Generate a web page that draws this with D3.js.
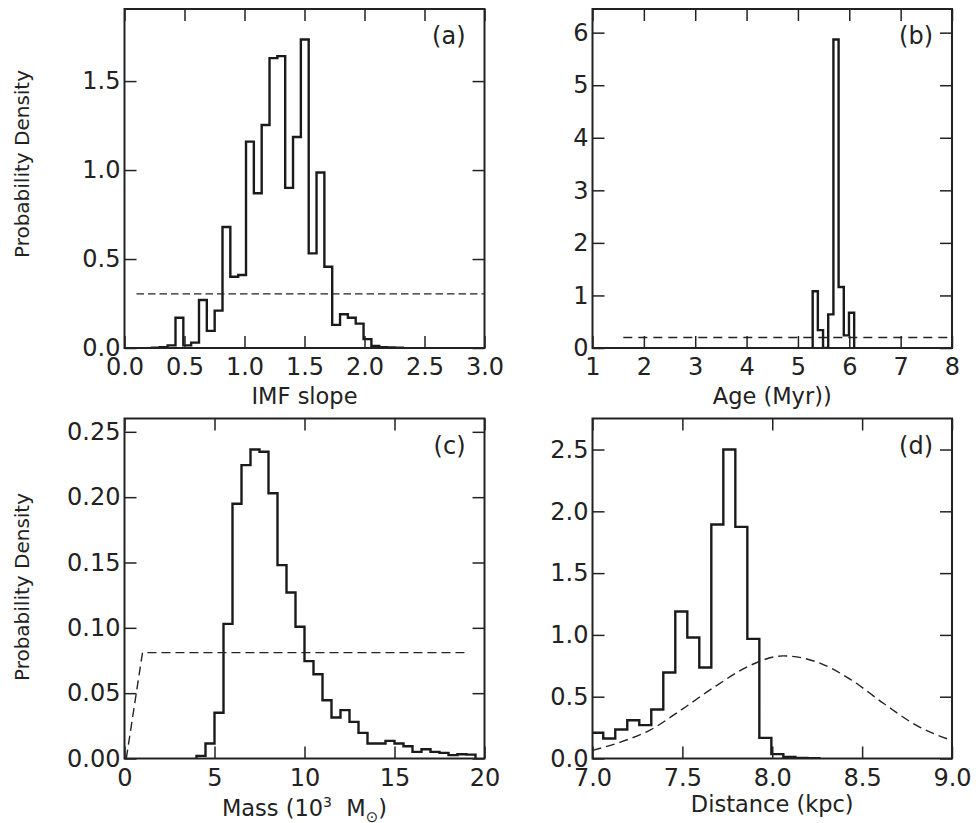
<!DOCTYPE html>
<html>
<head>
<meta charset="utf-8">
<script src="https://cdn.jsdelivr.net/npm/d3@7/dist/d3.min.js"></script>
<style>
body { margin: 0; background: #fff; }
svg text { font-family: "DejaVu Sans", sans-serif; fill: #222; }
</style>
</head>
<body>
<div id="chart"></div>
<script>
var w = 976;
var h = 823;

// (a) IMF slope: histogram heights, bins start at imfStart with width imfWidth
var imfStart = 0.229, imfWidth = 0.0653;
var imfDensity = [0.002, 0.005, 0.015, 0.17, 0.015, 0.03, 0.27, 0.096, 0.21, 0.68,
    0.40, 0.41, 1.16, 0.87, 1.253, 1.629, 1.64, 0.90, 1.186, 1.734,
    0.532, 0.986, 0.457, 0.13, 0.19, 0.17, 0.137, 0.05, 0.011, 0.005, 0.003, 0.002];
var imfPriorX = [0.1, 3.0];
var imfPriorY = [0.304, 0.304];

// (b) Age
var ageStart = 5.287, ageWidth = 0.101;
var ageDensity = [1.08, 0.34, 0.0, 0.64, 5.87, 1.16, 0.24, 0.67];
var agePriorX = [1.6, 8.0];
var agePriorY = [0.2, 0.2];

// (c) Mass
var massStart = 4.0, massWidth = 0.5;
var massDensity = [0.002, 0.0115, 0.035, 0.103, 0.195, 0.2245, 0.2365, 0.2347, 0.203, 0.148,
    0.127, 0.1008, 0.0745, 0.0645, 0.0446, 0.0314, 0.037, 0.028, 0.0196, 0.0115,
    0.0115, 0.0135, 0.0115, 0.0094, 0.0051, 0.0071, 0.0051, 0.0043, 0.0026, 0.0033, 0.003];
var massPriorX = [0.1, 1.0, 19.0];
var massPriorY = [0, 0.081, 0.081];

// (d) Distance
var distStart = 6.993, distWidth = 0.0668;
var distDensity = [0.208, 0.162, 0.235, 0.31, 0.27, 0.396, 0.696, 1.189, 0.979, 0.736,
    1.893, 2.5, 1.874, 0.968, 0.167, 0.035, 0.013, 0.004, 0.002];
var distPriorX = [7.0, 7.16, 7.32, 7.5, 7.69, 7.88, 8.06, 8.25, 8.43, 8.62, 8.8, 9.0];
var distPriorY = [0.066, 0.135, 0.23, 0.40, 0.59, 0.755, 0.83, 0.78, 0.645, 0.445, 0.27, 0.145];

// tick labels
var imfTicks = [0, 0.5, 1.0, 1.5, 2.0, 2.5, 3.0];
var imfYTicks = [0, 0.5, 1.0, 1.5];
var ageTicks = [1, 2, 3, 4, 5, 6, 7, 8];
var ageYTicks = [0, 1, 2, 3, 4, 5, 6];
var massTicks = [0, 5, 10, 15, 20];
var massYTicks = [0, 0.05, 0.10, 0.15, 0.20, 0.25];
var distTicks = [7.0, 7.5, 8.0, 8.5, 9.0];
var distYTicks = [0, 0.5, 1.0, 1.5, 2.0, 2.5];

var panels = [
    { name: "(a)", left: 124.5, top: 9, width: 360, height: 339,
      xDomain: [0, 3], yDomain: [0, 1.905], xTicks: imfTicks, yTicks: imfYTicks,
      xFmt: ".1f", yFmt: ".1f", xLabel: "IMF slope", xLabelY: 56, yLabel: true, yLabelY: 164,
      start: imfStart, binW: imfWidth, density: imfDensity,
      priorX: imfPriorX, priorY: imfPriorY, dash: "7.5,4" },
    { name: "(b)", left: 592.5, top: 9, width: 359.5, height: 339,
      xDomain: [1, 8], yDomain: [0, 6.45], xTicks: ageTicks, yTicks: ageYTicks,
      xFmt: "d", yFmt: "d", xLabel: "Age (Myr))", xLabelY: 56, yLabel: false,
      start: ageStart, binW: ageWidth, density: ageDensity,
      priorX: agePriorX, priorY: agePriorY, dash: "9,6" },
    { name: "(c)", left: 124.5, top: 418.5, width: 360, height: 340,
      xDomain: [0, 20], yDomain: [0, 0.2602], xTicks: massTicks, yTicks: massYTicks,
      xFmt: "d", yFmt: ".2f", xLabel: "mass", xLabelY: 57, yLabel: true, yLabelY: 587,
      start: massStart, binW: massWidth, density: massDensity,
      priorX: massPriorX, priorY: massPriorY, dash: "9,5" },
    { name: "(d)", left: 592.5, top: 418.5, width: 359.5, height: 340,
      xDomain: [7, 9], yDomain: [0, 2.751], xTicks: distTicks, yTicks: distYTicks,
      xFmt: ".1f", yFmt: ".1f", xLabel: "Distance (kpc)", xLabelY: 53, yLabel: false,
      start: distStart, binW: distWidth, density: distDensity,
      priorX: distPriorX, priorY: distPriorY, dash: "9,5" }
];

var svg = d3.select("#chart")
    .append("svg")
    .attr("width", w)
    .attr("height", h);

panels.forEach(function (p, i) {
    var g = svg.append("g")
        .attr("transform", "translate(" + p.left + "," + p.top + ")");

    var xScale = d3.scaleLinear().domain(p.xDomain).range([0, p.width]);
    var yScale = d3.scaleLinear().domain(p.yDomain).range([p.height, 0]);

    g.append("clipPath")
        .attr("id", "clip" + i)
        .append("rect")
        .attr("width", p.width)
        .attr("height", p.height);

    var plot = g.append("g").attr("clip-path", "url(#clip" + i + ")");

    // step outline of the histogram
    var pts = [[p.start, 0]];
    p.density.forEach(function (d, k) {
        pts.push([p.start + k * p.binW, d]);
        pts.push([p.start + (k + 1) * p.binW, d]);
    });
    pts.push([p.start + p.density.length * p.binW, 0]);

    var line = d3.line()
        .x(function (d) { return xScale(d[0]); })
        .y(function (d) { return yScale(d[1]); });

    plot.append("path")
        .datum(pts)
        .attr("d", line)
        .attr("fill", "none")
        .attr("stroke", "#1a1a1a")
        .attr("stroke-width", 2.4)
        .attr("stroke-linejoin", "miter");

    // prior (dashed)
    var prior = p.priorX.map(function (x, k) { return [x, p.priorY[k]]; });
    plot.append("path")
        .datum(prior)
        .attr("d", line.curve(p.priorX.length > 3 ? d3.curveMonotoneX : d3.curveLinear))
        .attr("fill", "none")
        .attr("stroke", "#222")
        .attr("stroke-width", 1.4)
        .attr("stroke-dasharray", p.dash);

    // axes, ticks pointing inward on all four sides
    var xAxis = d3.axisBottom(xScale).tickValues(p.xTicks)
        .tickFormat(d3.format(p.xFmt)).tickSizeInner(-12).tickSizeOuter(0).tickPadding(10);
    var yAxis = d3.axisLeft(yScale).tickValues(p.yTicks)
        .tickFormat(d3.format(p.yFmt)).tickSizeInner(-12).tickSizeOuter(0).tickPadding(4);
    var xTop = d3.axisTop(xScale).tickValues(p.xTicks)
        .tickFormat("").tickSizeInner(-12).tickSizeOuter(0);
    var yRight = d3.axisRight(yScale).tickValues(p.yTicks)
        .tickFormat("").tickSizeInner(-12).tickSizeOuter(0);

    var axes = [
        g.append("g").attr("transform", "translate(0," + p.height + ")").call(xAxis),
        g.append("g").call(yAxis),
        g.append("g").call(xTop),
        g.append("g").attr("transform", "translate(" + p.width + ",0)").call(yRight)
    ];
    axes.forEach(function (a) {
        a.select(".domain").remove();
        a.attr("font-family", null).attr("font-size", 24);
        a.selectAll(".tick line").attr("stroke", "#222").attr("stroke-width", 1.5);
    });

    // frame
    g.append("rect")
        .attr("width", p.width)
        .attr("height", p.height)
        .attr("fill", "none")
        .attr("stroke", "#222")
        .attr("stroke-width", 2);

    // panel letter
    g.append("text")
        .attr("x", p.width - 19)
        .attr("y", 35)
        .attr("text-anchor", "end")
        .attr("font-size", 24)
        .text(p.name);

    // x label
    var xl = g.append("text")
        .attr("x", p.width / 2)
        .attr("y", p.height + p.xLabelY)
        .attr("text-anchor", "middle")
        .attr("font-size", 22.5);
    if (p.xLabel === "mass") {
        xl.append("tspan").text("Mass (10");
        xl.append("tspan").attr("font-size", 14).attr("dy", -9).text("3");
        xl.append("tspan").attr("dy", 9).text("\u00a0 M");
        xl.append("tspan").attr("font-size", 15).attr("dy", 6).text("\u2299");
        xl.append("tspan").attr("dy", -6).text(")");
    } else {
        xl.text(p.xLabel);
    }

    // y label
    if (p.yLabel) {
        svg.append("text")
            .attr("transform", "translate(22," + p.yLabelY + ") rotate(-90)")
            .attr("text-anchor", "middle")
            .attr("dy", "0.35em")
            .attr("font-size", 20)
            .text("Probability Density");
    }
});
</script>
</body>
</html>
